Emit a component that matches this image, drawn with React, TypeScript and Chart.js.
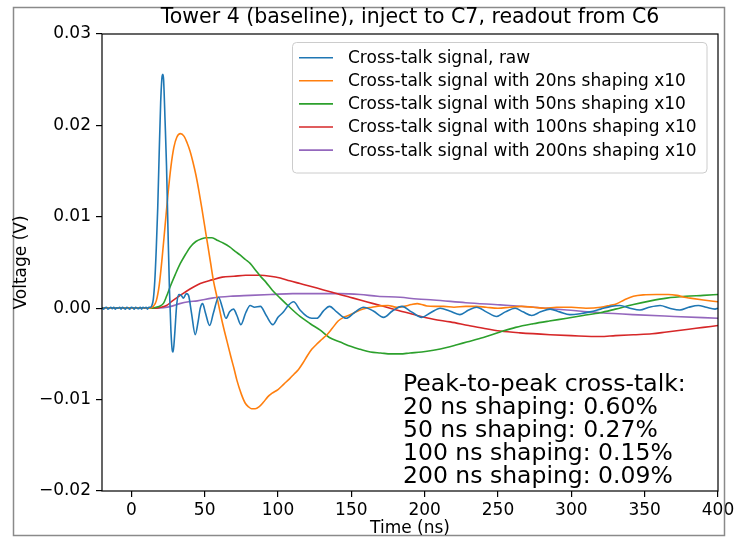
import React, { useEffect, useRef } from "react";
import { Chart, registerables } from "chart.js";

Chart.register(...registerables);

const FONT = '"DejaVu Sans", "Liberation Sans", sans-serif';

const TITLE = "Tower 4 (baseline), inject to C7, readout from C6";
const X_LABEL = "Time (ns)";
const Y_LABEL = "Voltage (V)";
const X_MIN = -20;
const X_MAX = 400;
const Y_MIN = -0.02;
const Y_MAX = 0.03;
const X_TICKS = [0, 50, 100, 150, 200, 250, 300, 350, 400];
const Y_TICKS = [-0.02, -0.01, 0, 0.01, 0.02, 0.03];

const SERIES_NAMES = [
  "Cross-talk signal, raw",
  "Cross-talk signal with 20ns shaping x10",
  "Cross-talk signal with 50ns shaping x10",
  "Cross-talk signal with 100ns shaping x10",
  "Cross-talk signal with 200ns shaping x10",
];
const SERIES_COLORS = ["#1f77b4", "#ff7f0e", "#2ca02c", "#d62728", "#9467bd"];

const NOTE_LINES = [
  "Peak-to-peak cross-talk:",
  "20 ns shaping: 0.60%",
  "50 ns shaping: 0.27%",
  "100 ns shaping: 0.15%",
  "200 ns shaping: 0.09%",
];

// time (ns), voltage (V)
const RAW: [number, number][] = [
  [-20, 0.0001], [-19, -0.0001], [-18, 0.00005], [-17, 0.0001], [-16, -0.0001], [-15, 0],
  [-14, 0.0001], [-13, -0.00005], [-12, 0.0001], [-11, -0.0001], [-10, 0.00005], [-9, 0],
  [-8, 0.0001], [-7, -0.0001], [-6, 0.0001], [-5, 0], [-4, -0.0001], [-3, 0.0001],
  [-2, 0], [-1, -0.0001], [0, 0.0001], [1, 0.00005], [2, -0.0001], [3, 0.0001],
  [4, 0], [5, -0.00005], [6, 0.0001], [7, -0.0001], [8, 0.0001], [9, 0],
  [10, 0.0001], [11, -0.0001], [12, 0.0001], [13, 0.0001], [14, 0.0003], [15, 0.001],
  [16, 0.003], [17, 0.0065], [18, 0.011], [19, 0.017], [20, 0.0225], [21, 0.0254],
  [21.5, 0.0256], [22, 0.025], [23, 0.0205], [24, 0.0155], [25, 0.0085], [26, 0.002],
  [27, -0.0025], [28, -0.0047], [28.5, -0.0048], [29.5, -0.003], [31, 0.0005], [32.5, 0.0015],
  [34, 0.0014], [35.5, 0.0011], [37.5, 0.0016], [39, 0.0014], [41, -0.0005], [43.6, -0.0029],
  [45.5, -0.0015], [47, 0], [48.6, 0.0005], [50.5, -0.0005], [53.4, -0.0019], [56, -0.0005],
  [59.5, 0.0012], [62, 0.0001], [64.5, -0.0011], [67, -0.0004], [69.7, -0.0001], [72, -0.0008],
  [74.7, -0.0018], [78, -0.0005], [81, 0.0003], [84, 0.0001], [88, 0.0002], [92, -0.0008],
  [96.5, -0.0018], [100, -0.001], [103.8, -0.0004], [107, 0.0003], [110.6, 0.0007], [115, -0.0002],
  [119.7, -0.0009], [123, -0.0011], [126.5, -0.0011], [131, -0.0003], [135.1, 0.0002], [140, -0.0004],
  [146.5, -0.0011], [152, -0.0005], [158.3, 0.0001], [165, -0.0003], [172, -0.001], [178, -0.0003],
  [184.5, 0.0002], [191, -0.0004], [198, -0.001], [204, -0.0005], [210.6, 0], [217, -0.0003],
  [224, -0.0007], [230, -0.0002], [235.5, 0.0001], [242, -0.0004], [249, -0.0009], [255, -0.0004],
  [261.7, 0], [267, -0.0004], [273, -0.0008], [279, -0.0004], [285.5, -0.0001], [292, -0.0004],
  [299, -0.0007], [306, -0.0006], [312.8, -0.0004], [320, -0.0001], [327, 0.0002], [333, 0.0003],
  [340, 0], [346.8, -0.0002], [353, 0.0001], [360.5, 0.0003], [367, 0], [374, -0.0002],
  [380, 0.0001], [386.6, 0.0003], [392, 0.0001], [398, -0.0001], [400, 0],
];

const SHAPED_20: [number, number][] = [
  [-20, 0], [12, 0], [15, 0.0002], [17, 0.0008], [19, 0.0025], [21, 0.0055], [23, 0.009],
  [25, 0.0125], [27, 0.0155], [29, 0.0176], [31, 0.0187], [33.4, 0.0191], [36, 0.0188],
  [38, 0.0181], [40, 0.0172], [42, 0.016], [44, 0.0146], [46, 0.0129], [48, 0.011],
  [50, 0.009], [52, 0.007], [54, 0.005], [56, 0.003], [58.4, 0.0012], [61, -0.0008],
  [63, -0.0022], [65.2, -0.0036], [68, -0.0054], [70, -0.0066], [72, -0.0079], [75, -0.0094],
  [77.7, -0.0104], [80, -0.0108], [82, -0.011], [84.5, -0.011], [87, -0.0108], [90, -0.0103],
  [93, -0.0097], [96, -0.0093], [100, -0.0089], [104, -0.0083], [108, -0.0077], [111, -0.0072],
  [114, -0.0067], [117, -0.006], [120, -0.0052], [123, -0.0045], [126, -0.004], [130, -0.0034],
  [133.4, -0.0029], [137, -0.0022], [141, -0.0014], [144.7, -0.001], [148, -0.0008], [152, -0.0005],
  [156, -0.0002], [160, 0], [164, 0.0001], [169.7, 0.00025], [175, 0.0003], [181, 0.0001],
  [186, 0.0002], [191, 0.0004], [195, 0.0005], [198, 0.0004], [201.5, 0.00025], [207, 0.0002],
  [213, 0.0002], [220, 0.0001], [228, 0.0002], [235, 0.0002], [242, 0.0001], [250, 0],
  [258, 0.0001], [266, 0.0002], [274, 0.0001], [282, 0], [290, 0.0001], [300, 0.0001],
  [310, 0], [320, 0.0001], [326, 0.0003], [331, 0.0005], [336, 0.0009], [342.3, 0.0013],
  [349, 0.00146], [358, 0.0015], [366, 0.0015], [372, 0.0014], [377, 0.0012], [381, 0.0011],
  [390, 0.0009], [400, 0.0007],
];

const SHAPED_50: [number, number][] = [
  [-20, 0], [14, 0], [17, 0.0001], [19, 0.0002], [22, 0.00055], [24, 0.0013], [26.6, 0.0024],
  [30, 0.0037], [33.4, 0.0049], [37, 0.0059], [40.2, 0.0067], [44, 0.0073], [48, 0.0076],
  [51.1, 0.0077], [55, 0.0077], [59, 0.0074], [62.9, 0.0071], [67, 0.0067], [71, 0.0062],
  [74.3, 0.0058], [78, 0.0053], [81, 0.0049], [85, 0.0041], [88, 0.0035], [92, 0.0028],
  [96, 0.002], [101.5, 0.0011], [108, 0.0001], [115, -0.0009], [122, -0.0017], [128.8, -0.0024],
  [135, -0.0032], [142.4, -0.0037], [150, -0.0042], [156, -0.0045], [163, -0.0048], [170, -0.0049],
  [177, -0.005], [183.3, -0.005], [190, -0.0049], [198, -0.0048], [206, -0.0046], [215, -0.0043],
  [222, -0.004], [228.7, -0.0037], [240, -0.0032], [251.5, -0.0026], [262, -0.0021], [274, -0.0017],
  [285, -0.0014], [297, -0.0011], [308, -0.0008], [319.6, -0.0005], [330, -0.0001], [342.3, 0.0004],
  [354, 0.0008], [365, 0.0011], [378, 0.0013], [390, 0.0014], [400, 0.0015],
];

const SHAPED_100: [number, number][] = [
  [-20, 0], [17, 0], [20, 0.0001], [24, 0.0003], [28, 0.0008], [33.4, 0.0014], [40, 0.0021],
  [47, 0.0027], [55, 0.0031], [62, 0.0034], [70, 0.0035], [78, 0.0036], [88, 0.0036],
  [94.7, 0.0035], [101.5, 0.0033], [108, 0.003], [115, 0.0027], [122, 0.0024], [128.8, 0.0021],
  [135.6, 0.0018], [142, 0.0015], [149, 0.0012], [156, 0.0009], [165, 0.0005], [176.5, 0],
  [183.3, -0.0003], [195, -0.0008], [206, -0.0012], [217.4, -0.0015], [230, -0.0019], [240, -0.0022],
  [251.5, -0.0025], [265, -0.0027], [285.5, -0.0029], [300, -0.003], [319.6, -0.0031], [330, -0.003],
  [342.3, -0.0029], [355, -0.0028], [365, -0.0026], [380, -0.0023], [390, -0.0021], [400, -0.0019],
];

const SHAPED_200: [number, number][] = [
  [-20, 0], [18, 0], [22, 0.00005], [27, 0.0002], [33, 0.0005], [39, 0.0007], [45, 0.0008],
  [55, 0.0011], [67.5, 0.0013], [81, 0.0014], [95, 0.0015], [110, 0.0016], [128.8, 0.0016],
  [142, 0.0016], [156, 0.0015], [168, 0.0013], [183.3, 0.0012], [195, 0.001], [206, 0.0009],
  [228, 0.0006], [251.5, 0.00036], [275, 0.0001], [297, -0.0002], [320, -0.0005], [342, -0.0007],
  [370, -0.0009], [400, -0.0011],
];

const SERIES_DATA = [RAW, SHAPED_20, SHAPED_50, SHAPED_100, SHAPED_200];

const overlayPlugin = {
  id: "overlay",
  afterDraw(chart: any) {
    const ctx: CanvasRenderingContext2D = chart.ctx;
    const { left, right, top, bottom } = chart.chartArea;
    ctx.save();

    // outer frame
    ctx.strokeStyle = "#8a8a8a";
    ctx.lineWidth = 1.5;
    ctx.strokeRect(13.5, 7.5, 711, 528);

    // spines
    ctx.strokeStyle = "#000";
    ctx.lineWidth = 1.2;
    ctx.strokeRect(left, top, right - left, bottom - top);

    ctx.fillStyle = "#000";
    // title
    ctx.font = `20.5px ${FONT}`;
    ctx.textAlign = "center";
    ctx.textBaseline = "alphabetic";
    ctx.fillText(TITLE, (left + right) / 2, 23);

    // x label
    ctx.font = `17px ${FONT}`;
    ctx.fillText(X_LABEL, (left + right) / 2, 533);

    // y label
    ctx.save();
    ctx.translate(26, (top + bottom) / 2);
    ctx.rotate(-Math.PI / 2);
    ctx.textBaseline = "alphabetic";
    ctx.fillText(Y_LABEL, 0, 0);
    ctx.restore();

    // legend
    const lx = 292.5, ly = 42.5, lw = 414.5, lh = 130.5;
    ctx.beginPath();
    (ctx as any).roundRect(lx, ly, lw, lh, 4);
    ctx.fillStyle = "rgba(255,255,255,0.8)";
    ctx.fill();
    ctx.strokeStyle = "#cccccc";
    ctx.lineWidth = 1;
    ctx.stroke();
    ctx.font = `17px ${FONT}`;
    ctx.textAlign = "left";
    ctx.textBaseline = "middle";
    SERIES_NAMES.forEach((name, i) => {
      const y = 57.7 + i * 23.1;
      ctx.strokeStyle = SERIES_COLORS[i];
      ctx.lineWidth = 1.6;
      ctx.beginPath();
      ctx.moveTo(299, y);
      ctx.lineTo(333, y);
      ctx.stroke();
      ctx.fillStyle = "#000";
      ctx.fillText(name, 348, y + 1);
    });

    // note
    ctx.font = `23.5px ${FONT}`;
    ctx.textBaseline = "alphabetic";
    ctx.fillStyle = "#000";
    NOTE_LINES.forEach((line, i) => {
      ctx.fillText(line, 403, 391 + i * 22.9);
    });

    ctx.restore();
  },
};

export default function App() {
  const ref = useRef<HTMLCanvasElement | null>(null);

  useEffect(() => {
    document.body.style.margin = "0";
    document.body.style.overflow = "hidden";
    if (!ref.current) return;
    const tickFont = { family: FONT, size: 17 };
    const chart = new Chart(ref.current, {
      type: "line",
      data: {
        datasets: SERIES_DATA.map((pts, i) => ({
          label: SERIES_NAMES[i],
          data: pts.map(([x, y]) => ({ x, y })),
          borderColor: SERIES_COLORS[i],
          backgroundColor: SERIES_COLORS[i],
          borderWidth: 1.6,
          pointRadius: 0,
          fill: false,
          cubicInterpolationMode: "monotone" as const,
        })),
      },
      options: {
        animation: false,
        responsive: false,
        maintainAspectRatio: false,
        devicePixelRatio: 1,
        layout: { padding: { left: 0, right: 16, top: 34, bottom: 23 } },
        plugins: {
          legend: { display: false },
          title: { display: false },
          tooltip: { enabled: false },
        },
        scales: {
          x: {
            type: "linear",
            min: X_MIN,
            max: X_MAX,
            afterBuildTicks: (s: any) => {
              s.ticks = X_TICKS.map((v) => ({ value: v }));
            },
            afterFit: (s: any) => {
              s.height = 30;
              s.paddingLeft = 0;
              s.paddingRight = 0;
            },
            grid: {
              drawOnChartArea: false,
              drawTicks: true,
              tickLength: 6,
              color: "#000",
              lineWidth: 1.2,
            },
            border: { display: false },
            ticks: {
              font: tickFont,
              color: "#000",
              padding: 3,
              maxRotation: 0,
              autoSkip: false,
              callback: (v: any) => String(v),
            },
          },
          y: {
            type: "linear",
            min: Y_MIN,
            max: Y_MAX,
            afterBuildTicks: (s: any) => {
              s.ticks = Y_TICKS.map((v) => ({ value: v }));
            },
            afterFit: (s: any) => {
              s.width = 102;
              s.paddingTop = 0;
              s.paddingBottom = 0;
            },
            grid: {
              drawOnChartArea: false,
              drawTicks: true,
              tickLength: 6,
              color: "#000",
              lineWidth: 1.2,
            },
            border: { display: false },
            ticks: {
              font: tickFont,
              color: "#000",
              padding: 5,
              autoSkip: false,
              callback: (v: any) => {
                const n = Number(v);
                return (n < -1e-9 ? "\u2212" : "") + Math.abs(n).toFixed(2);
              },
            },
          },
        },
      },
      plugins: [overlayPlugin],
    });
    return () => chart.destroy();
  }, []);

  return (
    <canvas
      ref={ref}
      width={734}
      height={544}
      style={{ display: "block", width: 734, height: 544 }}
    />
  );
}
